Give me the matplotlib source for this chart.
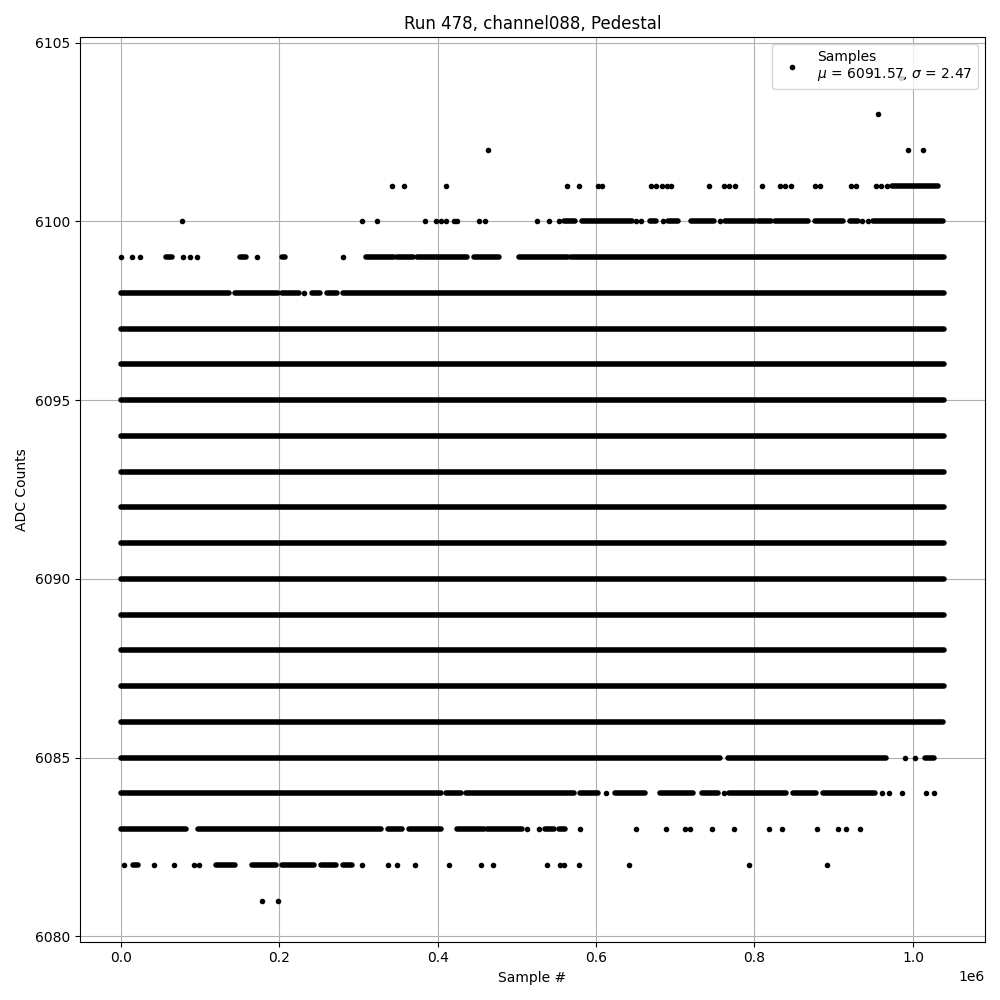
import numpy as np
import matplotlib.pyplot as plt

# Sample numbers are given in millions of samples (axis shows the 1e6 offset)
title = "Run 478, channel088, Pedestal"
mean_adc = 6091.57
sigma_adc = 2.47
last_sample = 1.039

# ADC levels where samples are so dense that they form a solid band: (first, last)
dense_runs = {
    6101: [(0.974, 1.031)],
    6100: [(0.560, 0.573), (0.582, 0.645), (0.668, 0.676), (0.691, 0.704),
           (0.720, 0.749), (0.763, 0.801), (0.804, 0.821), (0.826, 0.868),
           (0.876, 0.912), (0.920, 0.931), (0.950, 1.038)],
    6099: [(0.057, 0.065), (0.150, 0.158), (0.203, 0.208), (0.310, 0.345),
           (0.349, 0.369), (0.374, 0.437), (0.446, 0.477), (0.503, 0.565),
           (0.568, 1.039)],
    6098: [(0.0, 0.137), (0.144, 0.198), (0.204, 0.225), (0.241, 0.251),
           (0.261, 0.273), (0.280, 1.039)],
    6097: [(0.0, last_sample)],
    6096: [(0.0, last_sample)],
    6095: [(0.0, last_sample)],
    6094: [(0.0, last_sample)],
    6093: [(0.0, last_sample)],
    6092: [(0.0, last_sample)],
    6091: [(0.0, last_sample)],
    6090: [(0.0, last_sample)],
    6089: [(0.0, last_sample)],
    6088: [(0.0, last_sample)],
    6087: [(0.0, last_sample)],
    6086: [(0.0, 1.038)],
    6085: [(0.0, 0.757), (0.767, 0.966), (1.015, 1.027)],
    6084: [(0.0, 0.404), (0.410, 0.430), (0.436, 0.572), (0.580, 0.603),
           (0.624, 0.662), (0.681, 0.723), (0.734, 0.754), (0.768, 0.840),
           (0.849, 0.878), (0.887, 0.952)],
    6083: [(0.0, 0.083), (0.097, 0.329), (0.338, 0.355), (0.364, 0.404),
           (0.424, 0.458), (0.462, 0.507), (0.536, 0.547), (0.553, 0.561)],
    6082: [(0.015, 0.022), (0.120, 0.144), (0.166, 0.196), (0.203, 0.244),
           (0.253, 0.272), (0.280, 0.292)],
}

# isolated samples on each ADC level
single_samples = {
    6104: [0.985],
    6103: [0.956],
    6102: [0.463, 0.994, 1.013],
    6101: [0.343, 0.358, 0.410, 0.563, 0.578, 0.602, 0.608, 0.670, 0.676,
           0.683, 0.689, 0.695, 0.743, 0.762, 0.768, 0.775, 0.809, 0.832,
           0.839, 0.846, 0.877, 0.883, 0.922, 0.928, 0.953, 0.960, 0.967],
    6100: [0.078, 0.305, 0.324, 0.384, 0.398, 0.404, 0.410, 0.421, 0.424,
           0.452, 0.460, 0.525, 0.540, 0.553, 0.651, 0.657, 0.684, 0.757,
           0.936, 0.943],
    6099: [0.001, 0.014, 0.024, 0.079, 0.088, 0.096, 0.172, 0.281],
    6098: [0.232],
    6085: [0.990, 1.002],
    6084: [0.612, 0.761, 0.961, 0.970, 0.986, 1.016, 1.026],
    6083: [0.513, 0.528, 0.580, 0.651, 0.688, 0.712, 0.719, 0.746, 0.774,
           0.818, 0.835, 0.879, 0.906, 0.916, 0.933],
    6082: [0.004, 0.042, 0.067, 0.093, 0.099, 0.304, 0.338, 0.349, 0.372,
           0.415, 0.455, 0.470, 0.538, 0.554, 0.560, 0.578, 0.642, 0.793,
           0.891],
    6081: [0.178, 0.198],
}


def main():
    fig, ax = plt.subplots(figsize=(10, 10))

    # solid bands of overlapping samples, same width as the '.' marker
    for level, runs in dense_runs.items():
        for start, end in runs:
            ax.plot([start * 1e6, end * 1e6], [level, level], color='k',
                     linewidth=4, solid_capstyle='round')

    xs = []
    ys = []
    for level, samples in single_samples.items():
        for s in samples:
            xs.append(s * 1e6)
            ys.append(level)

    label = "Samples\n$\\mu$ = %.2f, $\\sigma$ = %.2f" % (mean_adc, sigma_adc)
    ax.plot(xs, ys, 'k.', linestyle='none', label=label)

    ax.set_title(title)
    ax.set_xlabel("Sample #")
    ax.set_ylabel("ADC Counts")
    ax.grid()
    ax.legend(loc='upper right')

    plt.tight_layout()
    plt.savefig("out.png", dpi=100)


if __name__ == "__main__":
    main()
